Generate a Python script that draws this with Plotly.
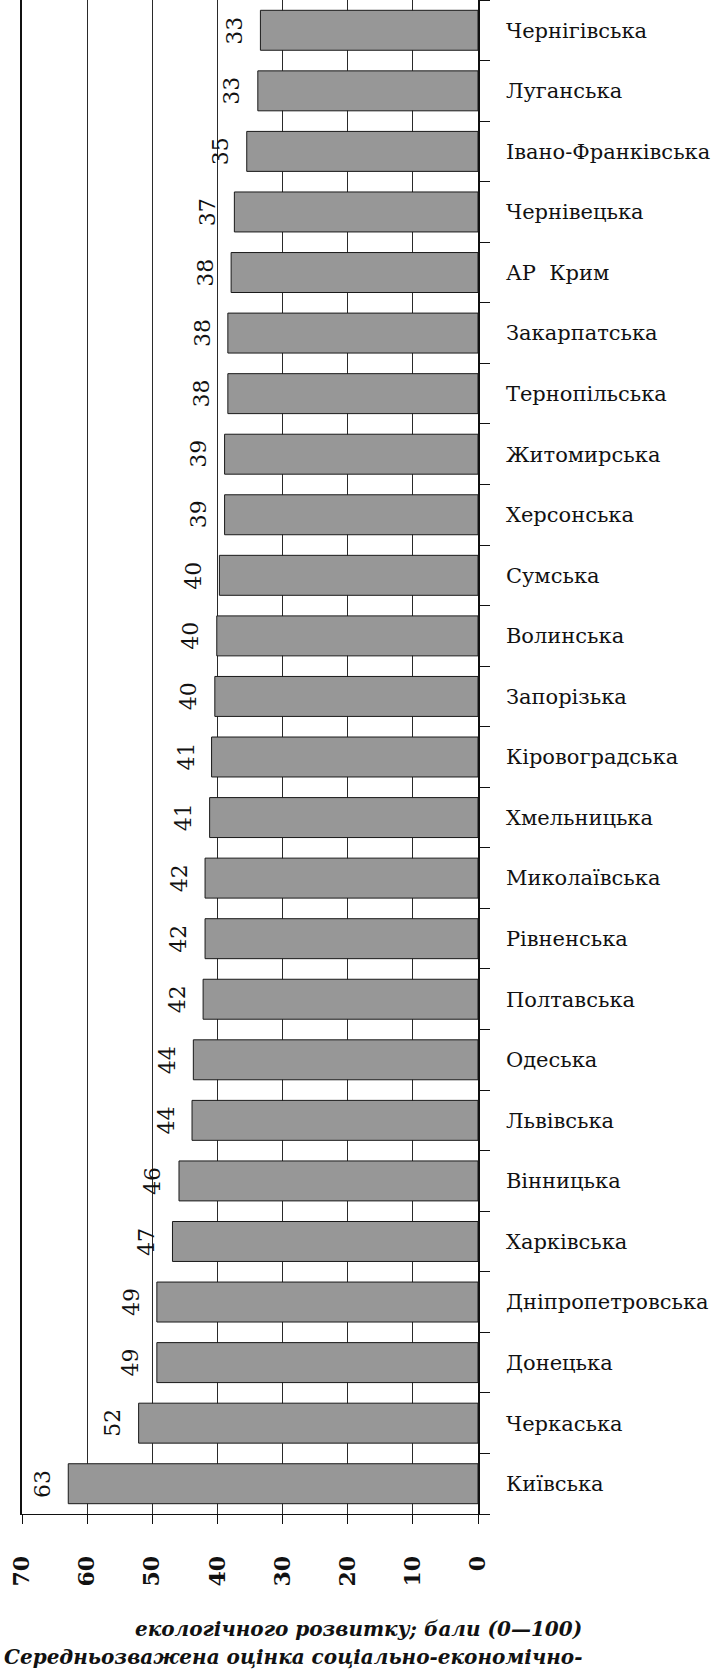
import plotly.graph_objects as go

# Categories listed bottom-to-top as they appear on the chart
regions = [
    "Київська", "Черкаська", "Донецька", "Дніпропетровська", "Харківська",
    "Вінницька", "Львівська", "Одеська", "Полтавська", "Рівненська",
    "Миколаївська", "Хмельницька", "Кіровоградська", "Запорізька", "Волинська",
    "Сумська", "Херсонська", "Житомирська", "Тернопільська", "Закарпатська",
    "АР  Крим", "Чернівецька", "Івано-Франківська", "Луганська", "Чернігівська",
]
# Bar lengths as drawn (points, 0-100 scale)
scores = [
    62.9, 52.1, 49.3, 49.3, 46.9,
    45.9, 43.9, 43.7, 42.2, 41.9,
    41.9, 41.2, 40.9, 40.4, 40.1,
    39.7, 38.9, 38.9, 38.4, 38.4,
    37.9, 37.4, 35.5, 33.8, 33.4,
]
# Printed value labels
score_labels = [
    "63", "52", "49", "49", "47",
    "46", "44", "44", "42", "42",
    "42", "41", "41", "40", "40",
    "40", "39", "39", "38", "38",
    "38", "37", "35", "33", "33",
]
value_ticks = [0, 10, 20, 30, 40, 50, 60, 70]
title_line1 = "екологічного розвитку; бали (0—100)"
title_line2 = "Середньозважена оцінка соціально-економічно-"

FONT = "DejaVu Serif"
W, H = 721, 1678
ML, MR, MT, MB = 22, 243, 0, 164
PW, PH = W - ML - MR, H - MT - MB

fig = go.Figure()
fig.add_trace(go.Bar(
    x=scores, y=regions, orientation="h",
    marker=dict(color="#979797", line=dict(color="#1a1a1a", width=1)),
    width=0.66, hoverinfo="skip",
))

annotations = []
for v, r, t in zip(scores, regions, score_labels):
    annotations.append(dict(
        x=v, y=r, xref="x", yref="y", text=t, showarrow=False,
        textangle=-90, xshift=-26, xanchor="center", yanchor="middle",
        font=dict(family=FONT, size=22, color="#111"),
    ))

def px_to_paper_x(px):
    return (px - ML) / PW

def px_to_paper_y(py):
    return (MT + PH - py) / PH

annotations.append(dict(
    x=px_to_paper_x(584), y=px_to_paper_y(1629), xref="paper", yref="paper",
    text="<b><i>" + title_line1 + "</i></b>", showarrow=False,
    xanchor="right", yanchor="middle",
    font=dict(family=FONT, size=20, color="#111"),
))
annotations.append(dict(
    x=px_to_paper_x(584), y=px_to_paper_y(1657), xref="paper", yref="paper",
    text="<b><i>" + title_line2 + "</i></b>", showarrow=False,
    xanchor="right", yanchor="middle",
    font=dict(family=FONT, size=20, color="#111"),
))

fig.update_layout(
    width=W, height=H,
    margin=dict(l=ML, r=MR, t=MT, b=MB, pad=0, autoexpand=False),
    paper_bgcolor="white", plot_bgcolor="white",
    showlegend=False, bargap=0.34,
    font=dict(family=FONT, color="#111"),
    annotations=annotations,
    xaxis=dict(
        range=[70, 0], tickvals=value_ticks,
        ticktext=["<b>%d</b>" % v for v in value_ticks],
        showgrid=True, gridcolor="#2a2a2a", gridwidth=1.3,
        zeroline=False, showline=True, linecolor="#111", linewidth=1.2,
        mirror=True, automargin=False,
        ticks="outside", ticklen=9, tickcolor="#111", tickwidth=1.2,
        tickangle=-90, ticklabelstandoff=23,
        tickfont=dict(family=FONT, size=22, color="#111"),
        fixedrange=True,
    ),
    yaxis=dict(
        side="right", type="category", automargin=False,
        showgrid=False, zeroline=False,
        showline=True, linecolor="#111", linewidth=1.5, mirror=True,
        ticks="outside", ticklen=10, tickcolor="#111", tickwidth=1,
        tickson="boundaries", ticklabelstandoff=22,
        tickfont=dict(family=FONT, size=21, color="#111"),
        fixedrange=True,
    ),
)

fig.write_html(
    "out.html",
    config={"displayModeBar": False},
    post_script="document.body.style.margin='0';document.body.style.padding='0';",
)
